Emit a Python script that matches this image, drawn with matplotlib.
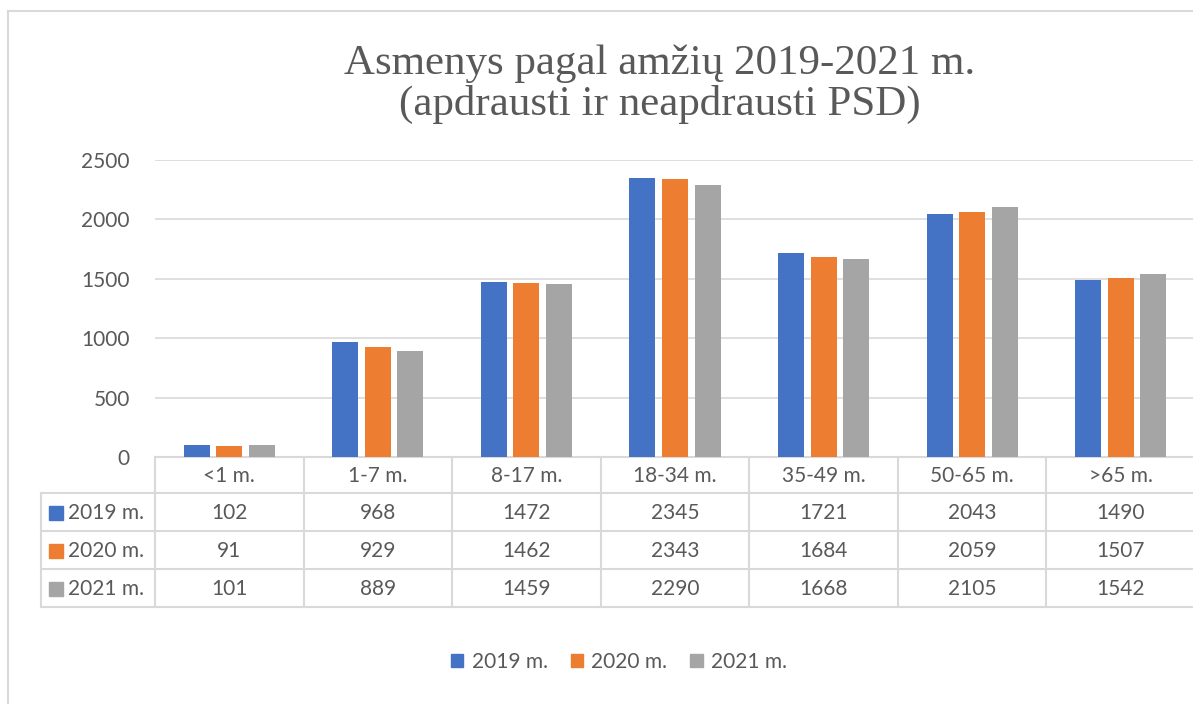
import numpy as np
import matplotlib.pyplot as plt
import matplotlib.transforms as mtransforms
from matplotlib.patches import Patch

# Data
categories = ["<1 m.", "1-7 m.", "8-17 m.", "18-34 m.", "35-49 m.", "50-65 m.", ">65 m."]
series_names = ["2019 m.", "2020 m.", "2021 m."]
v2019 = [102, 968, 1472, 2345, 1721, 2043, 1490]
v2020 = [91, 929, 1462, 2343, 1684, 2059, 1507]
v2021 = [101, 889, 1459, 2290, 1668, 2105, 1542]
yticks = [0, 500, 1000, 1500, 2000, 2500]

colors = ["#4472C4", "#ED7D31", "#A5A5A5"]
text_c = "#595959"
grid_c = "#D9D9D9"
W, H = 1193, 704
fs = 15
plt.rcParams['font.family'] = ['Lato', 'DejaVu Sans']

fig = plt.figure(figsize=(W / 100, H / 100), dpi=100)

# overlay axes in pixel coordinates for frame and table lines
ov = fig.add_axes([0, 0, 1, 1])
ov.set_xlim(0, W)
ov.set_ylim(H, 0)
ov.axis("off")

# main plot area (pixels: x 155..1195, y 160..457)
x0, x1, ytop, ybot = 155, 1195, 160, 457
ax = fig.add_axes([x0 / W, 1 - ybot / H, (x1 - x0) / W, (ybot - ytop) / H])
ax.set_xlim(-0.5, len(categories) - 0.5)
ax.set_ylim(0, 2500)
ax.patch.set_alpha(0)

x = np.arange(len(categories))
bw = 0.175
step = 0.219
for i, vals in enumerate([v2019, v2020, v2021]):
    ax.bar(x + (i - 1) * step, vals, width=bw, color=colors[i], zorder=3)

ax.set_yticks(yticks)
ax.set_yticklabels([str(t) for t in yticks], color=text_c, fontsize=fs)
ax.tick_params(axis="y", length=0, pad=18)
ax.set_xticks([])
ax.grid(axis="y", color=grid_c, lw=1.2, zorder=0)
for s in ax.spines.values():
    s.set_visible(False)

# chart outer border
ov.plot([8, 8], [11, H], color=grid_c, lw=1.5)
ov.plot([8, W], [11, 11], color=grid_c, lw=1.5)

# title
ov.text(660, 84, "Asmenys pagal amžių 2019-2021 m.\n(apdrausti ir neapdrausti PSD)",
        ha="center", va="center", fontsize=31, color=text_c,
        family="Liberation Serif", linespacing=1.08)

# data table
bt = mtransforms.blended_transform_factory(ax.transData, ov.transData)
rows_y = [457, 493, 531, 569, 607]
tc = dict(color=grid_c, lw=1.5, zorder=5, clip_on=False)
ov.plot([x0, x1], [457, 457], **tc)
for yy in rows_y[1:]:
    ov.plot([41, x1], [yy, yy], **tc)
ov.plot([41, 41], [493, 607], **tc)
for k in range(len(categories) + 1):
    ov.plot([k - 0.5, k - 0.5], [457, 607], transform=bt, **tc)
for j, c in enumerate(categories):
    ov.text(j, 476, c, transform=bt, ha="center", va="center", fontsize=fs, color=text_c)
for i, vals in enumerate([v2019, v2020, v2021]):
    yc = (rows_y[i + 1] + rows_y[i + 2]) / 2 + 1
    ov.add_patch(plt.Rectangle((49, yc - 7), 14, 14, color=colors[i]))
    ov.text(68, yc, series_names[i], ha="left", va="center", fontsize=fs, color=text_c)
    for j, v in enumerate(vals):
        ov.text(j, yc, str(v), transform=bt, ha="center", va="center", fontsize=fs, color=text_c)

# legend
handles = [Patch(color=colors[i], label=series_names[i]) for i in range(3)]
fig.legend(handles=handles, loc="center", bbox_to_anchor=(619 / W, 1 - 662 / H),
           ncol=3, frameon=False, fontsize=fs, labelcolor=text_c,
           handlelength=0.6, handleheight=0.6, handletextpad=0.4, columnspacing=1.1)

fig.savefig("out.png", dpi=100)
